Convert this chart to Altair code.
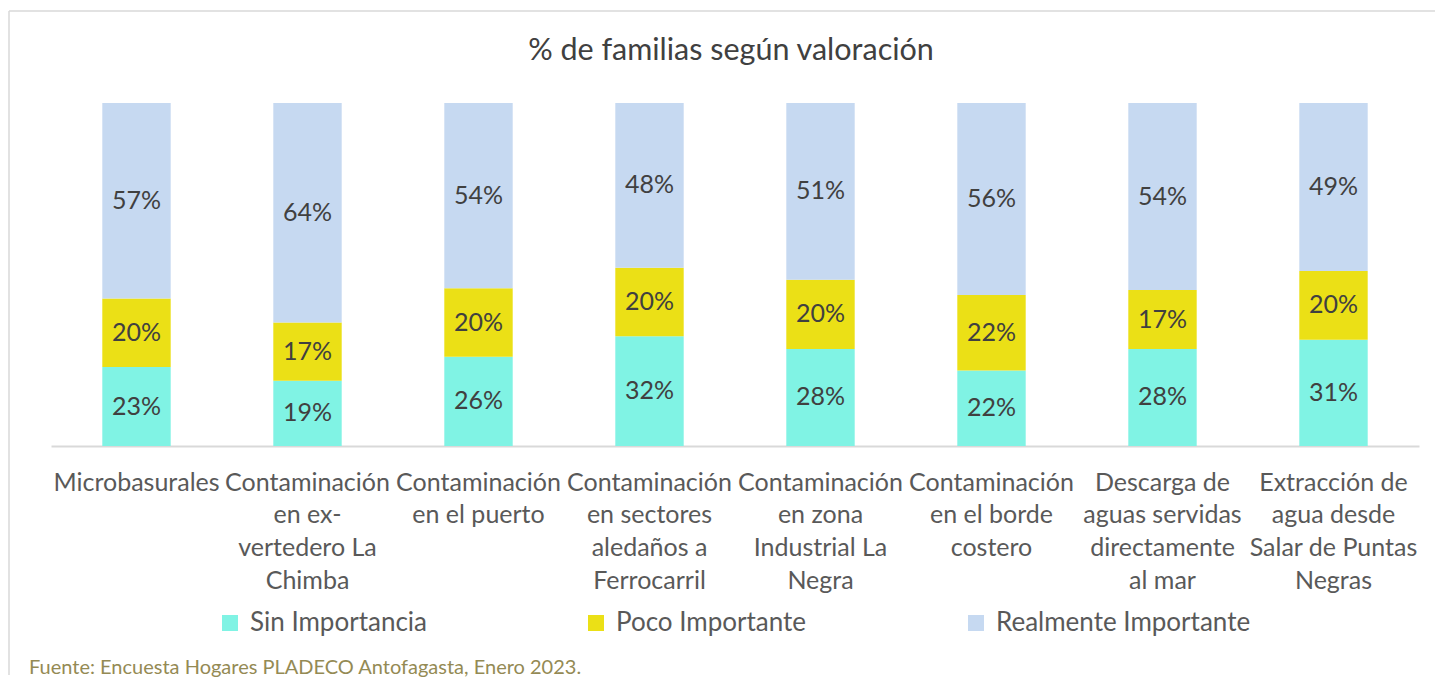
import altair as alt
import pandas as pd

categories = [
    "Microbasurales",
    "Contaminación|en ex-|vertedero La|Chimba",
    "Contaminación|en el puerto",
    "Contaminación|en sectores|aledaños a|Ferrocarril",
    "Contaminación|en zona|Industrial La|Negra",
    "Contaminación|en el borde|costero",
    "Descarga de|aguas servidas|directamente|al mar",
    "Extracción de|agua desde|Salar de Puntas|Negras",
]
series = ["Sin Importancia", "Poco Importante", "Realmente Importante"]
sin_importancia = [23, 19, 26, 32, 28, 22, 28, 31]
poco_importante = [20, 17, 20, 20, 20, 22, 17, 20]
realmente_importante = [57, 64, 54, 48, 51, 56, 54, 49]
colors = ["#80F3E4", "#EBE016", "#C6D9F1"]
title_text = "% de familias según valoración"
source_text = "Fuente: Encuesta Hogares PLADECO Antofagasta, Enero 2023."

rows = []
for i, c in enumerate(categories):
    for j, (s, vals) in enumerate(zip(series, [sin_importancia, poco_importante, realmente_importante])):
        rows.append({"cat": c, "serie": s, "ord": j, "value": vals[i], "label": f"{vals[i]}%"})
df = pd.DataFrame(rows)

FONT = "Lato"

base = alt.Chart(df).transform_stack(
    stack="value", as_=["v0", "v1"], groupby=["cat"], offset="normalize",
    sort=[alt.SortField("ord", order="ascending")]
).transform_calculate(mid="(datum.v0 + datum.v1) / 2")

xenc = alt.X(
    "cat:N", sort=categories, title=None,
    scale=alt.Scale(paddingInner=0.6, paddingOuter=0.3),
    axis=alt.Axis(
        labelExpr="split(datum.label, '|')", labelAngle=0, labelFontSize=25,
        labelFont=FONT, labelColor="#595959", labelLineHeight=32.7,
        labelPadding=24, labelOverlap=False, labelBound=False, labelLimit=0,
        ticks=False, domainColor="#D9D9D9", domainWidth=2,
    ),
)

bars = base.mark_bar().encode(
    x=xenc,
    y=alt.Y("v0:Q", scale=alt.Scale(domain=[0, 1]), axis=None),
    y2="v1:Q",
    color=alt.Color(
        "serie:N", scale=alt.Scale(domain=series, range=colors), title=None,
        legend=alt.Legend(
            orient="none", legendX=166, legendY=507, direction="horizontal",
            symbolType="square", symbolSize=256, symbolStrokeWidth=0,
            labelFontSize=26, labelFont=FONT, labelColor="#595959",
            labelOffset=7, columnPadding=156, labelLimit=400,
        ),
    ),
    order=alt.Order("ord:Q"),
)

texts = base.mark_text(fontSize=25, font=FONT, color="#404040").encode(
    x=alt.X("cat:N", sort=categories),
    y=alt.Y("mid:Q", scale=alt.Scale(domain=[0, 1])),
    text="label:N",
)

one = pd.DataFrame([{"k": 1}])
frame_left = alt.Chart(one).mark_rule(color="#D9D9D9", strokeWidth=1.5).encode(
    x=alt.value(-42), y=alt.value(-92), y2=alt.value(572)
)
frame_top = alt.Chart(one).mark_rule(color="#D9D9D9", strokeWidth=1.5).encode(
    x=alt.value(-42), x2=alt.value(1384), y=alt.value(-92)
)
title = alt.Chart(one).mark_text(
    fontSize=30.5, font=FONT, color="#404040", align="center", baseline="middle"
).encode(
    x=alt.value(680), y=alt.value(-52), text=alt.value(title_text),
)
footer = alt.Chart(one).mark_text(
    fontSize=20, font=FONT, color="#948A54", align="left", baseline="middle"
).encode(
    x=alt.value(-22), y=alt.value(565), text=alt.value(source_text),
)

chart = alt.layer(bars, texts, frame_left, frame_top, title, footer).properties(
    width=1368, height=343,
    background="white",
    padding={"left": 0, "top": 2, "right": 0, "bottom": 0},
).configure_view(strokeWidth=0)

chart.save("out.html", embed_options={"renderer": "svg", "actions": False})
